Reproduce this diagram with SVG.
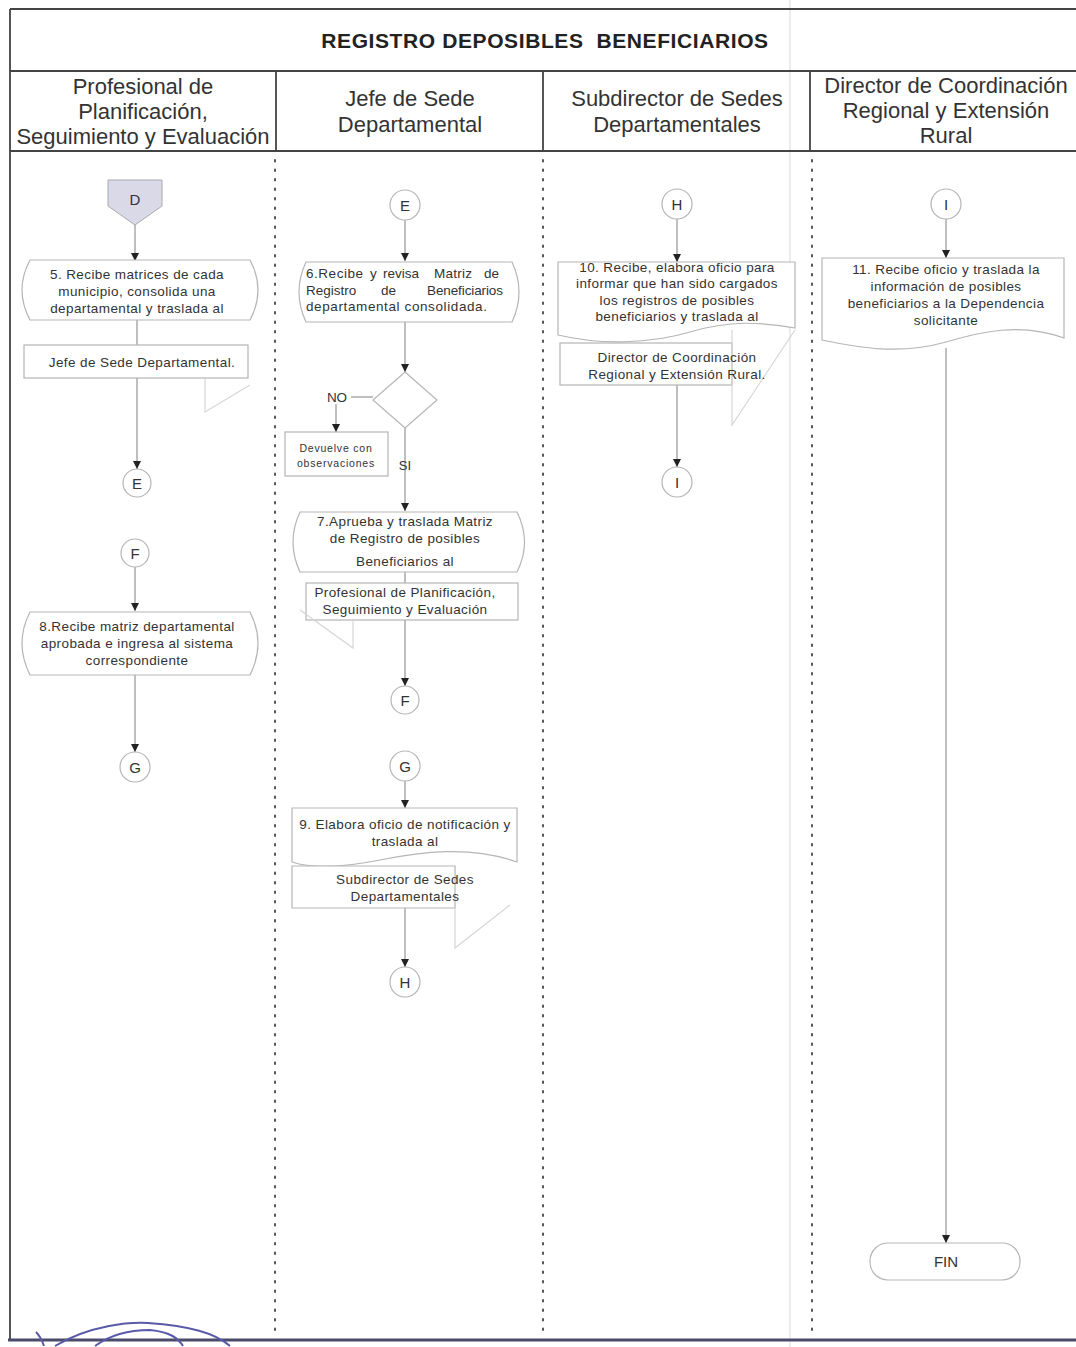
<svg xmlns="http://www.w3.org/2000/svg" width="1076" height="1347" viewBox="0 0 1076 1347">
<style>
.t{font-family:"Liberation Sans",Arial,sans-serif;fill:#333;text-anchor:middle}
.title{font-size:21px;font-weight:bold;fill:#222;letter-spacing:0.6px;white-space:pre}
.hd{font-size:22px}
.tx{font-size:13.5px;letter-spacing:0.4px}
.w{font-size:13.5px;text-anchor:start}
.sm{font-size:10.5px;letter-spacing:0.8px}
.nd{fill:#fff;stroke:#b5b5b5;stroke-width:1.2}
.faint{fill:none;stroke:#d6d6d6;stroke-width:1.2}
.ln{fill:none;stroke:#8a8a8a;stroke-width:1.1}
.frame{fill:none;stroke:#444;stroke-width:1.8}
.dot{fill:none;stroke:#555;stroke-width:2;stroke-dasharray:1.5 8;stroke-linecap:round}
</style>
<defs>
<marker id="av" markerWidth="9" markerHeight="9" refX="8" refY="4.5" orient="auto" markerUnits="userSpaceOnUse" viewBox="0 0 9 9">
<path d="M0,0.5 L8,4.5 L0,8.5 Z" fill="#222"/>
</marker>
</defs>
<rect width="1076" height="1347" fill="#fff"/>
<line x1="790" y1="0" x2="790" y2="1347" stroke="#e6e6e6" stroke-width="1.5"/>
<g id="frame">
<path class="frame" d="M10,9 H1076 M10,71 H1076 M10,151 H1076 M10,9 V1340"/>
<path class="frame" d="M276,71 V151 M543,71 V151 M810,71 V151"/>
<line x1="8" y1="1340" x2="1076" y2="1340" stroke="#4a4a6a" stroke-width="3"/>
<path class="dot" d="M275,160 V1338 M543,160 V1338 M812,160 V1338"/>
</g>
<text class="t title" x="545" y="48">REGISTRO DEPOSIBLES  BENEFICIARIOS</text>
<g id="headers">
<text class="t hd" x="143" y="94">Profesional de</text>
<text class="t hd" x="143" y="119">Planificación,</text>
<text class="t hd" x="143" y="144">Seguimiento y Evaluación</text>
<text class="t hd" x="410" y="106">Jefe de Sede</text>
<text class="t hd" x="410" y="132">Departamental</text>
<text class="t hd" x="677" y="106">Subdirector de Sedes</text>
<text class="t hd" x="677" y="132">Departamentales</text>
<text class="t hd" x="946" y="93">Director de Coordinación</text>
<text class="t hd" x="946" y="118">Regional y Extensión</text>
<text class="t hd" x="946" y="143">Rural</text>
</g>
<g id="connectors">
<line class="ln" x1="135" y1="225" x2="135" y2="261" marker-end="url(#av)"/>
<line class="ln" x1="137" y1="320" x2="137" y2="345"/>
<line class="ln" x1="137" y1="378" x2="137" y2="469" marker-end="url(#av)"/>
<line class="ln" x1="135" y1="567" x2="135" y2="611" marker-end="url(#av)"/>
<line class="ln" x1="135" y1="675" x2="135" y2="752" marker-end="url(#av)"/>
<line class="ln" x1="405" y1="220" x2="405" y2="261" marker-end="url(#av)"/>
<line class="ln" x1="405" y1="322" x2="405" y2="372" marker-end="url(#av)"/>
<line class="ln" x1="351" y1="397" x2="373" y2="397"/>
<line class="ln" x1="336" y1="404" x2="336" y2="432" marker-end="url(#av)"/>
<line class="ln" x1="405" y1="428" x2="405" y2="511" marker-end="url(#av)"/>
<line class="ln" x1="405" y1="572" x2="405" y2="583"/>
<line class="ln" x1="405" y1="620" x2="405" y2="686" marker-end="url(#av)"/>
<line class="ln" x1="405" y1="781" x2="405" y2="808" marker-end="url(#av)"/>
<line class="ln" x1="405" y1="908" x2="405" y2="967" marker-end="url(#av)"/>
<line class="ln" x1="677" y1="219" x2="677" y2="262" marker-end="url(#av)"/>
<line class="ln" x1="677" y1="385" x2="677" y2="467" marker-end="url(#av)"/>
<line class="ln" x1="946" y1="219" x2="946" y2="258" marker-end="url(#av)"/>
<line class="ln" x1="946" y1="348" x2="946" y2="1243" marker-end="url(#av)"/>
</g>
<g id="nodeD">
<polygon points="108,180 162,180 162,206 135,225 108,206" fill="#d9d9e8" stroke="#aaa" stroke-width="1"/>
<text class="t" x="135" y="205" font-size="15">D</text>
</g>
<g id="node5">
<path class="nd" d="M30,260 H250 Q266,290 250,320 H30 Q14,290 30,260 Z"/>
<text class="t tx" x="137" y="279">5. Recibe matrices de cada</text>
<text class="t tx" x="137" y="296">municipio, consolida una</text>
<text class="t tx" x="137" y="313">departamental y traslada al</text>
</g>
<g id="node5b">
<rect class="nd" x="24" y="345" width="224" height="33"/>
<path class="faint" d="M205,378 V412 L250,385"/>
<text class="t tx" x="142" y="367">Jefe de Sede Departamental.</text>
</g>
<g id="nodeE1"><circle class="nd" cx="137" cy="483" r="14"/><text class="t" x="137" y="488.5" font-size="15">E</text></g>
<g id="nodeF1"><circle class="nd" cx="135" cy="553" r="14"/><text class="t" x="135" y="558.5" font-size="15">F</text></g>
<g id="node8">
<path class="nd" d="M30,612 H250 Q266,643 250,675 H30 Q14,643 30,612 Z"/>
<text class="t tx" x="137" y="631">8.Recibe matriz departamental</text>
<text class="t tx" x="137" y="648">aprobada e ingresa al sistema</text>
<text class="t tx" x="137" y="665">correspondiente</text>
</g>
<g id="nodeG1"><circle class="nd" cx="135" cy="767" r="15"/><text class="t" x="135" y="772.5" font-size="15">G</text></g>
<g id="nodeE2"><circle class="nd" cx="405" cy="205" r="15"/><text class="t" x="405" y="210.5" font-size="15">E</text></g>
<g id="node6">
<path class="nd" d="M306,262 H512 Q526,292 512,322 H306 Q292,292 306,262 Z"/>
<text class="t w" x="306" y="278" textLength="57" lengthAdjust="spacing">6.Recibe</text>
<text class="t w" x="370" y="278">y</text>
<text class="t w" x="383" y="278" textLength="36" lengthAdjust="spacing">revisa</text>
<text class="t w" x="434" y="278" textLength="38" lengthAdjust="spacing">Matriz</text>
<text class="t w" x="484" y="278">de</text>
<text class="t w" x="306" y="295">Registro</text>
<text class="t w" x="381" y="295">de</text>
<text class="t w" x="427" y="295" textLength="76" lengthAdjust="spacing">Beneficiarios</text>
<text class="t w" x="306" y="311" textLength="181" lengthAdjust="spacing">departamental consolidada.</text>
</g>
<g id="decision">
<polygon class="nd" points="405,372 437,400 405,428 373,400" stroke="#ddd"/>
<text class="t" x="337" y="402" font-size="13.5">NO</text>
<text class="t" x="405" y="470" font-size="13">SI</text>
</g>
<g id="nodeDevuelve">
<rect class="nd" x="285" y="432" width="103" height="44"/>
<text class="t sm" x="336" y="452">Devuelve con</text>
<text class="t sm" x="336" y="467">observaciones</text>
</g>
<g id="node7">
<path class="nd" d="M300,512 H517 Q532,542 517,572 H300 Q286,542 300,512 Z"/>
<text class="t tx" x="405" y="526">7.Aprueba y traslada Matriz</text>
<text class="t tx" x="405" y="543">de Registro de posibles</text>
<text class="t tx" x="405" y="566">Beneficiarios al</text>
</g>
<g id="node7b">
<rect class="nd" x="306" y="583" width="212" height="37"/>
<path class="faint" d="M353,620 V648 L300,610"/>
<text class="t tx" x="405" y="597">Profesional de Planificación,</text>
<text class="t tx" x="405" y="614">Seguimiento y Evaluación</text>
</g>
<g id="nodeF2"><circle class="nd" cx="405" cy="700" r="14"/><text class="t" x="405" y="705.5" font-size="15">F</text></g>
<g id="nodeG2"><circle class="nd" cx="405" cy="766" r="15"/><text class="t" x="405" y="771.5" font-size="15">G</text></g>
<g id="node9">
<path class="nd" d="M292,808 H517 V862 C470,845 420,852 380,860 C340,868 310,868 292,862 Z"/>
<text class="t tx" x="405" y="829">9. Elabora oficio de notificación y</text>
<text class="t tx" x="405" y="846">traslada al</text>
</g>
<g id="node9b">
<path class="nd" d="M292,866 H455 V908 H292 Z"/>
<path class="faint" d="M455,908 V948 L510,905"/>
<text class="t tx" x="405" y="884">Subdirector de Sedes</text>
<text class="t tx" x="405" y="901">Departamentales</text>
</g>
<g id="nodeH1"><circle class="nd" cx="405" cy="982" r="15"/><text class="t" x="405" y="987.5" font-size="15">H</text></g>
<g id="nodeH2"><circle class="nd" cx="677" cy="204" r="15"/><text class="t" x="677" y="209.5" font-size="15">H</text></g>
<g id="node10">
<path class="nd" d="M558,262 H795 V328 C760,322 730,320 690,332 C650,344 600,345 558,335 Z"/>
<text class="t tx" x="677" y="272">10. Recibe, elabora oficio para</text>
<text class="t tx" x="677" y="288">informar que han sido cargados</text>
<text class="t tx" x="677" y="305">los registros de posibles</text>
<text class="t tx" x="677" y="321">beneficiarios y traslada al</text>
</g>
<g id="node10b">
<rect class="nd" x="560" y="343" width="172" height="42"/>
<path class="faint" d="M732,330 V425 L795,330"/>
<text class="t tx" x="677" y="362">Director de Coordinación</text>
<text class="t tx" x="677" y="379">Regional y Extensión Rural.</text>
</g>
<g id="nodeI1"><circle class="nd" cx="677" cy="482" r="15"/><text class="t" x="677" y="487.5" font-size="15">I</text></g>
<g id="nodeI2"><circle class="nd" cx="946" cy="204" r="15"/><text class="t" x="946" y="209.5" font-size="15">I</text></g>
<g id="node11">
<path class="nd" d="M822,258 H1064 V338 C1020,322 980,332 946,342 C900,355 860,348 822,340 Z"/>
<text class="t tx" x="946" y="274">11. Recibe oficio y traslada la</text>
<text class="t tx" x="946" y="291">información de posibles</text>
<text class="t tx" x="946" y="308">beneficiarios a la Dependencia</text>
<text class="t tx" x="946" y="325">solicitante</text>
</g>
<g id="nodeFIN">
<rect class="nd" x="870" y="1243" width="150" height="37" rx="18"/>
<text class="t" x="946" y="1267" font-size="15">FIN</text>
</g>
<path d="M36,1332 C40,1336 42,1340 44,1346 M55,1346 C90,1325 130,1322 148,1323 C190,1326 215,1333 230,1346 M95,1346 C110,1335 130,1330 150,1330 C170,1332 178,1338 183,1346" fill="none" stroke="#5a5aa8" stroke-width="2"/>
</svg>
